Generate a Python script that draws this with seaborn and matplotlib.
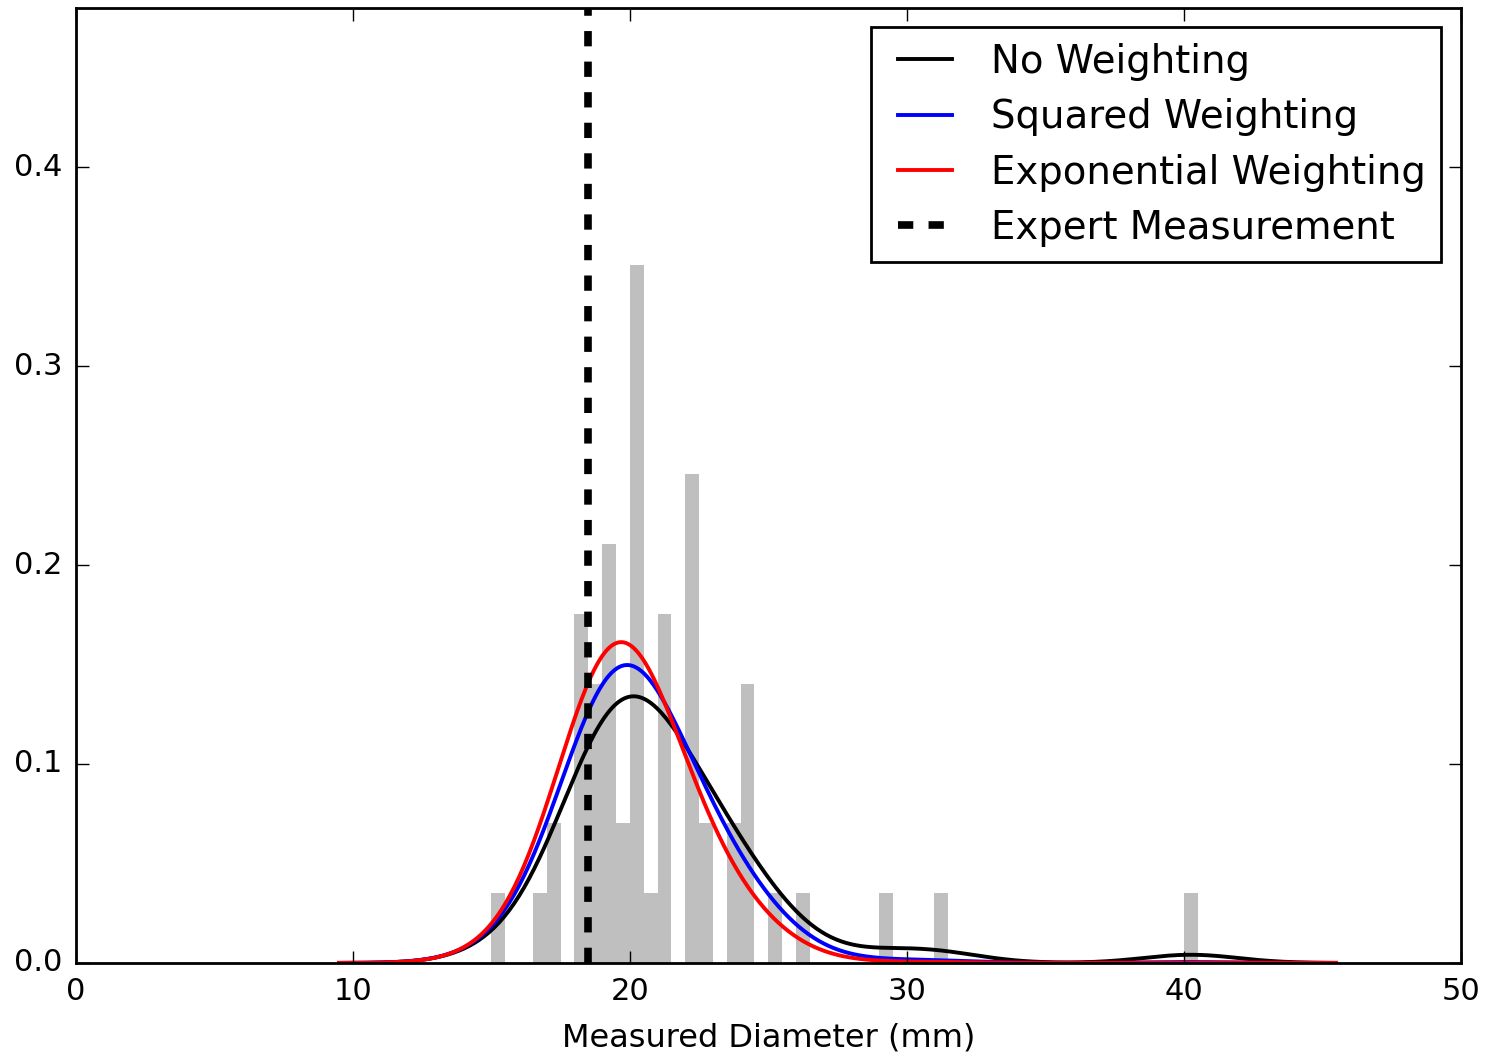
import numpy as np
import pandas as pd
import matplotlib
matplotlib.use("Agg")
import matplotlib.pyplot as plt
import seaborn as sns

plt.style.use("classic")
plt.rcParams["font.family"] = ["DejaVu Sans"]

# measured diameters (mm), grouped by value, with how often each was measured
diam_values = [15.25, 16.75, 17.25, 18.25, 18.75, 19.25, 19.75, 20.25, 20.75, 21.25,
               22.25, 22.75, 23.75, 24.25, 25.25, 26.25, 29.25, 31.25, 40.25]
diam_counts = [1, 1, 2, 5, 4, 6, 2, 10, 1, 5, 7, 2, 2, 4, 1, 1, 1, 1, 1]
# confidence score of each measured value
confidence = [0.9, 0.95, 1.0, 1.0, 1.0, 1.0, 1.0, 0.97, 0.95, 0.93,
              0.88, 0.85, 0.82, 0.8, 0.75, 0.7, 0.45, 0.4, 0.3]
expert_value = 18.5

samples = np.repeat(diam_values, diam_counts)
conf = np.repeat(confidence, diam_counts)
w_squared = conf ** 2
w_exp = np.exp(5 * conf)

# keep the same kernel width for every curve
bw_plain = samples.std(ddof=1) * len(samples) ** (-0.2)


def bw_factor(w):
    return bw_plain / np.sqrt(np.cov(samples, aweights=w))


fig, ax = plt.subplots(figsize=(14.89, 10.57), dpi=100)
fig.subplots_adjust(left=0.051, right=0.981, bottom=0.089, top=0.9924)

sns.histplot(x=samples, binwidth=0.5, binrange=(15, 40.5), stat="density",
             color="#bfbfbf", alpha=1, edgecolor="none", linewidth=0, ax=ax)

kde_kw = dict(cut=10, clip=(9.5, 45.5), gridsize=400, linewidth=2.8, ax=ax)
sns.kdeplot(x=samples, color="black", label="No Weighting", **kde_kw)
sns.kdeplot(x=samples, weights=w_squared, bw_method=bw_factor(w_squared),
            color="blue", label="Squared Weighting", **kde_kw)
sns.kdeplot(x=samples, weights=w_exp, bw_method=bw_factor(w_exp),
            color="red", label="Exponential Weighting", **kde_kw)
ax.axvline(expert_value, color="black", linestyle="--", linewidth=5.5, dashes=(11, 11),
           label="Expert Measurement")

ax.set_xlim(0, 50)
ax.set_ylim(0, 0.48)
ax.set_xticks([0, 10, 20, 30, 40, 50])
ax.set_yticks([0.0, 0.1, 0.2, 0.3, 0.4])
ax.set_xlabel("Measured Diameter (mm)", fontsize=23, labelpad=12)
ax.set_ylabel("")
ax.tick_params(labelsize=22, length=9, width=1, pad=10, direction="in")
for s in ax.spines.values():
    s.set_linewidth(2)

leg = ax.legend(loc="upper right", fontsize=27.8, handlelength=2.0, handletextpad=0.7,
                labelspacing=0.45, borderpad=0.4, borderaxespad=0.5, fancybox=False)
leg.get_frame().set_edgecolor("black")
leg.get_frame().set_linewidth(2)

fig.savefig("out.png", dpi=100)
